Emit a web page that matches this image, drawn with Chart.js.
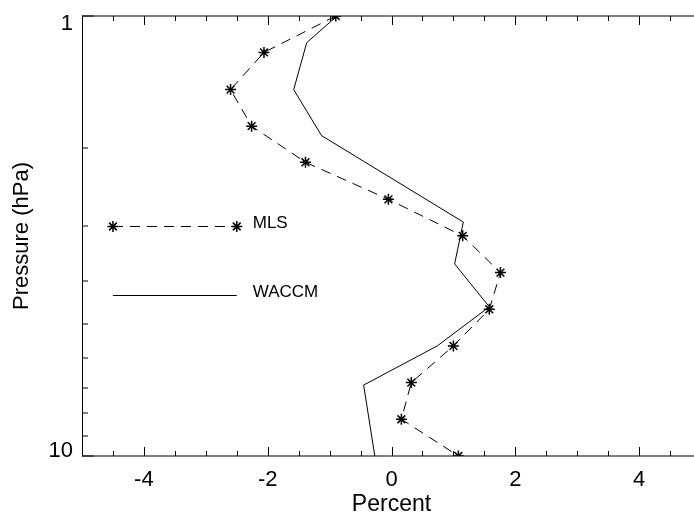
<!DOCTYPE html>
<html>
<head>
<meta charset="utf-8">
<script src="https://cdn.jsdelivr.net/npm/chart.js@4/dist/chart.umd.min.js"></script>
<style>
    html, body { margin: 0; padding: 0; background: #fff; overflow: hidden; }
    #wrap { width: 694px; height: 516px; overflow: hidden; }
</style>
</head>
<body>
<div id="wrap"><canvas id="grafik-profil" width="710" height="516"></canvas></div>
<script>
// MLS levels (hPa) and percent values
const mlsPressure = [1.00, 1.21, 1.47, 1.78, 2.15, 2.61, 3.16, 3.83, 4.64, 5.62, 6.81, 8.25, 10.0];
const mlsPercent = [-0.90, -2.06, -2.60, -2.26, -1.39, -0.05, 1.15, 1.76, 1.58, 1.00, 0.32, 0.16, 1.08];

// WACCM profile
const waccmPressure = [1.00, 1.15, 1.47, 1.87, 2.94, 3.66, 4.58, 5.62, 6.90, 10.0];
const waccmPercent = [-0.88, -1.37, -1.58, -1.13, 1.16, 1.02, 1.58, 0.74, -0.45, -0.27];

const xTickValues = [-4, -2, 0, 2, 4];
const yTickLabels = [1, 10];
const legendLabels = ["MLS", "WACCM"];
const legendPressure = [3.0, 4.3];
const legendPercent = [-4.5, -2.5];

const fontFamily = "Arial, 'Liberation Sans', Helvetica, sans-serif";

const toPoints = (xs, ys) => xs.map((x, i) => ({ x: x, y: ys[i] }));

// axes, inward ticks, y labels and legend drawn like the IDL plot
const axesPlugin = {
    id: "idlAxes",
    afterDraw(chart) {
        const ctx = chart.ctx;
        const area = chart.chartArea;
        const xs = chart.scales.x;
        const ys = chart.scales.y;
        ctx.save();
        ctx.strokeStyle = "#000";
        ctx.lineWidth = 1;

        // frame: bottom, top, left
        ctx.beginPath();
        ctx.moveTo(area.left, area.bottom);
        ctx.lineTo(area.right, area.bottom);
        ctx.moveTo(area.left, area.top);
        ctx.lineTo(area.right, area.top);
        ctx.moveTo(area.left + 0.5, area.top);
        ctx.lineTo(area.left + 0.5, area.bottom);
        ctx.stroke();

        // x ticks (minor every 0.5, major on labels)
        ctx.beginPath();
        for (let v = -5; v <= 5.001; v += 0.5) {
            const px = Math.round(xs.getPixelForValue(v)) + 0.5;
            const len = xTickValues.includes(v) ? 9 : 5;
            ctx.moveTo(px, area.bottom);
            ctx.lineTo(px, area.bottom - len);
            ctx.moveTo(px, area.top);
            ctx.lineTo(px, area.top + len);
        }
        // y ticks
        for (let p = 1; p <= 10; p++) {
            const py = Math.round(ys.getPixelForValue(p));
            const len = (p === 1 || p === 10) ? 12 : 6;
            ctx.moveTo(area.left, py);
            ctx.lineTo(area.left + len, py);
        }
        ctx.stroke();

        // y tick labels
        ctx.fillStyle = "#000";
        ctx.font = "22px " + fontFamily;
        ctx.textAlign = "right";
        ctx.textBaseline = "alphabetic";
        yTickLabels.forEach((p) => {
            const py = ys.getPixelForValue(p);
            const off = p === 1 ? 14 : 1;
            ctx.fillText(String(p), area.left - 9, py + off);
        });

        // legend
        ctx.font = "17px " + fontFamily;
        ctx.textAlign = "left";
        legendLabels.forEach((label, i) => {
            const py = Math.round(ys.getPixelForValue(legendPressure[i])) + 0.5;
            const x0 = xs.getPixelForValue(legendPercent[0]);
            const x1 = xs.getPixelForValue(legendPercent[1]);
            ctx.lineWidth = 1;
            ctx.beginPath();
            ctx.setLineDash(i === 0 ? [10, 7] : []);
            ctx.moveTo(x0, py);
            ctx.lineTo(x1, py);
            ctx.stroke();
            ctx.setLineDash([]);
            if (i === 0) {
                ctx.lineWidth = 1.5;
                [x0, x1].forEach((px) => {
                    Chart.helpers.drawPoint(ctx, { pointStyle: "star", radius: 5.5, borderWidth: 1.5 }, px, py);
                });
            }
            ctx.fillText(label, x1 + 16, py + 1);
        });
        ctx.restore();
    },
};

const dataProfil = {
    datasets: [
        {
            label: "MLS",
            data: toPoints(mlsPercent, mlsPressure),
            showLine: true,
            borderColor: "#000",
            borderWidth: 1,
            borderDash: [10, 7],
            pointStyle: "star",
            pointRadius: 5.5,
            pointBorderWidth: 1.5,
            pointBorderColor: "#000",
            pointBackgroundColor: "#000",
        },
        {
            label: "WACCM",
            data: toPoints(waccmPercent, waccmPressure),
            showLine: true,
            borderColor: "#000",
            borderWidth: 1,
            pointRadius: 0,
        },
    ],
};

new Chart(document.getElementById("grafik-profil"), {
    type: "scatter",
    data: dataProfil,
    options: {
        responsive: false,
        animation: false,
        layout: { padding: { top: 16, right: 9, left: 0, bottom: 0 } },
        plugins: { legend: { display: false }, tooltip: { enabled: false } },
        scales: {
            x: {
                type: "linear",
                min: -5,
                max: 5,
                grid: { display: false, drawTicks: false },
                border: { display: false },
                afterBuildTicks: (s) => { s.ticks = xTickValues.map((v) => ({ value: v })); },
                afterFit: (s) => { s.height = 60; },
                ticks: {
                    color: "#000",
                    padding: 13,
                    font: { family: fontFamily, size: 22, lineHeight: 1 },
                },
                title: {
                    display: true,
                    text: "Percent",
                    color: "#000",
                    padding: { top: 0, bottom: 0 },
                    font: { family: fontFamily, size: 23, lineHeight: 1 },
                },
            },
            y: {
                type: "logarithmic",
                min: 1,
                max: 10,
                reverse: true,
                grid: { display: false, drawTicks: false },
                border: { display: false },
                ticks: { display: false },
                afterFit: (s) => { s.width = 82; },
                title: {
                    display: true,
                    text: "Pressure (hPa)",
                    color: "#000",
                    padding: { top: 11, bottom: 0 },
                    font: { family: fontFamily, size: 22, lineHeight: 1 },
                },
            },
        },
    },
    plugins: [axesPlugin],
});
</script>
</body>
</html>
